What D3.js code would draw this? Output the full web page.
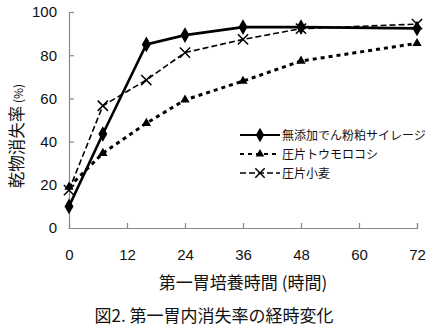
<!DOCTYPE html>
<html><head><meta charset="utf-8">
<script src="https://cdn.jsdelivr.net/npm/d3@7"></script>
<style>body{margin:0;background:#fff}svg{display:block}</style>
</head><body><svg id="c" width="434" height="330"></svg>
<script>
const hours = [0, 7, 16, 24, 36, 48, 72];
const seriesNames = ["無添加でん粉粕サイレージ", "圧片トウモロコシ", "圧片小麦"];
const silage = [10, 43.5, 85, 89.3, 93, 93, 92.4];
const corn = [19, 34.6, 48.5, 59.3, 68, 77.3, 85.5];
const wheat = [17.5, 56.6, 68.5, 81.2, 87.3, 92.3, 94.4];
const xTicks = [0, 12, 24, 36, 48, 60, 72];
const yTicks = [0, 20, 40, 60, 80, 100];
const xTitle = "第一胃培養時間 (時間)";
const yTitleMain = "乾物消失率";
const yTitleUnit = " (%)";
const caption = "図2. 第一胃内消失率の経時変化";

const svg = d3.select("#c");
const x = d3.scaleLinear().domain([0, 72]).range([69, 417]);
const y = d3.scaleLinear().domain([0, 100]).range([228, 12]);
const font = "'Liberation Sans', Arial, 'Noto Sans CJK JP', sans-serif";
const jfont = "'Noto Sans CJK JP', sans-serif";

const xa = svg.append("g").attr("transform", "translate(0,228)")
  .call(d3.axisBottom(x).tickValues(xTicks).tickSize(-5).tickPadding(21).tickFormat(d3.format("d")));
const ya = svg.append("g").attr("transform", "translate(69,0)")
  .call(d3.axisLeft(y).tickValues(yTicks).tickSize(-5).tickPadding(12));
[xa, ya].forEach(a => {
  a.select(".domain").attr("stroke", "#888").attr("stroke-width", 1.2);
  a.selectAll(".tick line").attr("stroke", "#888").attr("stroke-width", 1.2);
  a.selectAll("text").attr("font-family", font).attr("font-size", 15).attr("fill", "#111");
});
xa.selectAll(".tick").filter(d => d === 0).select("line").remove();
ya.selectAll(".tick").filter(d => d === 0).select("line").remove();

const data = [
  {vals: silage, dash: null, w: 2.6, lw: 2, marker: "diamond"},
  {vals: corn, dash: "4,4", w: 3, lw: 2.2, marker: "triangle"},
  {vals: wheat, dash: "6,3", w: 1.6, lw: 1.5, marker: "x"}
];
const line = d3.line().x((d, i) => x(hours[i])).y(d => y(d));

function marker(g, type, cx, cy, sc) {
  sc = sc || 1;
  if (type === "diamond") {
    g.append("path").attr("d", d3.symbol(d3.symbolDiamond, 70 * sc)()).attr("transform", `translate(${cx},${cy})`).attr("fill", "#000");
  } else if (type === "triangle") {
    g.append("path").attr("d", d3.symbol(d3.symbolTriangle, 38 * sc)()).attr("transform", `translate(${cx},${cy})`).attr("fill", "#000");
  } else {
    g.append("path").attr("d", d3.symbol(d3.symbolX, 70 * sc)()).attr("transform", `translate(${cx},${cy})`).attr("fill", "none").attr("stroke", "#000").attr("stroke-width", 1.5);
  }
}

[2, 1, 0].forEach(k => {
  const s = data[k];
  const g = svg.append("g");
  g.append("path").attr("d", line(s.vals)).attr("fill", "none").attr("stroke", "#000")
    .attr("stroke-width", s.w).attr("stroke-dasharray", s.dash);
  s.vals.forEach((v, i) => marker(g, s.marker, x(hours[i]), y(v)));
});

// legend
const lg = svg.append("g");
seriesNames.forEach((n, i) => {
  const yy = 135 + i * 19;
  const s = data[i];
  lg.append("line").attr("x1", 240).attr("x2", 280).attr("y1", yy).attr("y2", yy)
    .attr("stroke", "#000").attr("stroke-width", s.lw).attr("stroke-dasharray", s.dash);
  marker(lg, s.marker, 260, yy, 0.85);
  lg.append("text").attr("x", 282).attr("y", yy + 5).text(n)
    .attr("font-family", jfont).attr("font-size", 12).attr("fill", "#111");
});

svg.append("text").attr("x", 243).attr("y", 289).attr("text-anchor", "middle").text(xTitle)
  .attr("font-family", jfont).attr("font-size", 17).attr("fill", "#111");
const yt = svg.append("text").attr("transform", "translate(23,136) rotate(-90)").attr("text-anchor", "middle")
  .attr("font-family", jfont).attr("font-size", 16.5).attr("fill", "#111");
yt.append("tspan").text(yTitleMain);
yt.append("tspan").text(yTitleUnit).attr("font-size", 12);
svg.append("text").attr("x", 214).attr("y", 322).attr("text-anchor", "middle").text(caption)
  .attr("font-family", jfont).attr("font-size", 17).attr("fill", "#111");
</script></body></html>
